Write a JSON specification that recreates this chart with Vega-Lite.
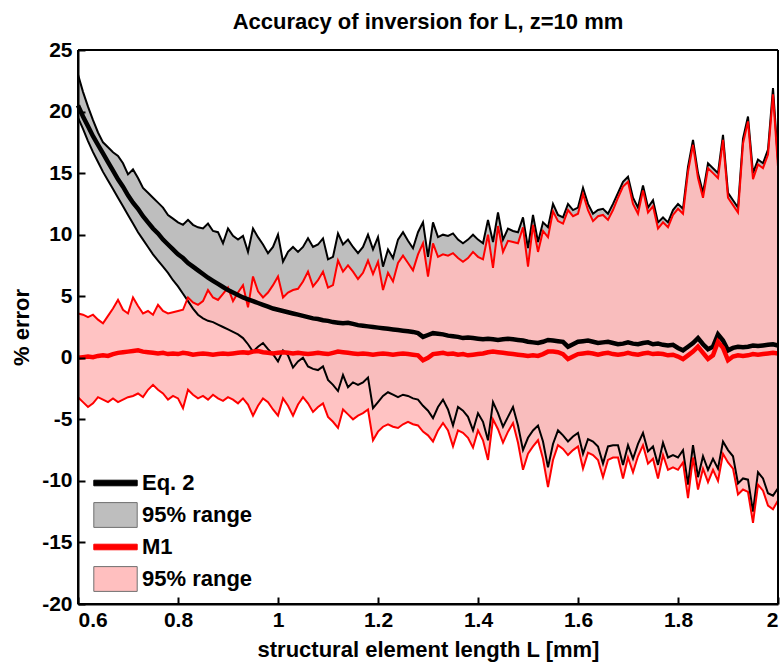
{
"$schema": "https://vega.github.io/schema/vega-lite/v6.json",
"width": 700, "height": 554,
"autosize": {"type": "none"},
"padding": {"left": 78, "top": 50, "right": 2, "bottom": 60},
"background": "white",
"title": {"text": "Accuracy of inversion for L, z=10 mm", "fontSize": 22, "font": "Liberation Sans", "fontWeight": "bold", "color": "black", "offset": 5, "anchor": "middle"},
"config": {
  "font": "Liberation Sans",
  "view": {"stroke": null},
  "axis": {"labelFont": "Liberation Sans", "labelFontWeight": "bold", "labelFontSize": 21, "labelColor": "black", "titleFont": "Liberation Sans", "titleFontWeight": "bold", "titleFontSize": 22, "titleColor": "black", "grid": false},
  "legend": {"labelFont": "Liberation Sans", "labelFontWeight": "bold", "labelFontSize": 22, "labelColor": "black"}
},
"datasets": {
"leg": [{"series": "Eq. 2"}, {"series": "Eq. 2 range"}, {"series": "M1"}, {"series": "M1 range"}],
"main": [
{"L":0.6,"em":20.5,"eh":23.0,"el":19.5,"rm":0.0,"rh":3.6,"rl":-3.2},
{"L":0.61,"em":19.6,"eh":21.6,"el":18.6,"rm":0.05,"rh":3.5,"rl":-3.6},
{"L":0.62,"em":18.8,"eh":20.4,"el":17.6,"rm":0.1,"rh":3.3,"rl":-4.0},
{"L":0.63,"em":18.0,"eh":19.3,"el":16.7,"rm":0.05,"rh":3.5,"rl":-3.7},
{"L":0.64,"em":17.3,"eh":18.3,"el":15.9,"rm":0.15,"rh":3.1,"rl":-3.2},
{"L":0.65,"em":16.6,"eh":17.5,"el":15.1,"rm":0.2,"rh":2.8,"rl":-3.4},
{"L":0.66,"em":15.9,"eh":17.1,"el":14.4,"rm":0.15,"rh":3.4,"rl":-3.6},
{"L":0.67,"em":15.2,"eh":16.7,"el":13.7,"rm":0.3,"rh":4.0,"rl":-3.3},
{"L":0.68,"em":14.5,"eh":16.4,"el":13.0,"rm":0.4,"rh":4.7,"rl":-3.6},
{"L":0.69,"em":13.9,"eh":15.8,"el":12.3,"rm":0.45,"rh":3.9,"rl":-3.4},
{"L":0.7,"em":13.2,"eh":14.9,"el":11.6,"rm":0.5,"rh":3.6,"rl":-3.2},
{"L":0.71,"em":12.6,"eh":15.3,"el":10.9,"rm":0.55,"rh":4.9,"rl":-3.1},
{"L":0.72,"em":12.1,"eh":14.6,"el":10.2,"rm":0.6,"rh":4.2,"rl":-2.9},
{"L":0.73,"em":11.5,"eh":13.8,"el":9.6,"rm":0.5,"rh":3.6,"rl":-3.2},
{"L":0.74,"em":11.0,"eh":13.4,"el":9.0,"rm":0.45,"rh":3.8,"rl":-2.6},
{"L":0.75,"em":10.5,"eh":13.0,"el":8.4,"rm":0.4,"rh":3.5,"rl":-2.2},
{"L":0.76,"em":10.1,"eh":12.6,"el":7.9,"rm":0.35,"rh":4.3,"rl":-2.6},
{"L":0.77,"em":9.6,"eh":12.2,"el":7.4,"rm":0.4,"rh":3.8,"rl":-2.9},
{"L":0.78,"em":9.2,"eh":11.6,"el":6.9,"rm":0.3,"rh":3.6,"rl":-3.4},
{"L":0.79,"em":8.8,"eh":11.3,"el":6.3,"rm":0.35,"rh":3.7,"rl":-3.1},
{"L":0.8,"em":8.4,"eh":11.0,"el":5.8,"rm":0.3,"rh":3.8,"rl":-3.3},
{"L":0.81,"em":8.1,"eh":10.8,"el":5.2,"rm":0.4,"rh":3.9,"rl":-4.1},
{"L":0.82,"em":7.7,"eh":11.2,"el":4.6,"rm":0.35,"rh":4.9,"rl":-2.6},
{"L":0.83,"em":7.4,"eh":10.8,"el":4.0,"rm":0.25,"rh":4.5,"rl":-3.0},
{"L":0.84,"em":7.1,"eh":10.6,"el":3.5,"rm":0.3,"rh":4.3,"rl":-3.3},
{"L":0.85,"em":6.8,"eh":10.5,"el":3.2,"rm":0.35,"rh":4.6,"rl":-3.1},
{"L":0.86,"em":6.5,"eh":10.9,"el":3.0,"rm":0.3,"rh":5.5,"rl":-3.4},
{"L":0.87,"em":6.25,"eh":10.3,"el":2.9,"rm":0.25,"rh":4.9,"rl":-3.0},
{"L":0.88,"em":6.0,"eh":10.2,"el":2.7,"rm":0.3,"rh":4.7,"rl":-3.3},
{"L":0.89,"em":5.75,"eh":9.3,"el":2.5,"rm":0.35,"rh":5.2,"rl":-3.5},
{"L":0.9,"em":5.5,"eh":10.5,"el":2.3,"rm":0.3,"rh":5.7,"rl":-3.2},
{"L":0.91,"em":5.3,"eh":9.9,"el":2.1,"rm":0.35,"rh":4.6,"rl":-3.4},
{"L":0.92,"em":5.1,"eh":9.6,"el":1.9,"rm":0.4,"rh":5.3,"rl":-3.7},
{"L":0.93,"em":4.9,"eh":9.9,"el":1.6,"rm":0.45,"rh":5.9,"rl":-3.3},
{"L":0.94,"em":4.75,"eh":8.6,"el":1.1,"rm":0.4,"rh":4.1,"rl":-3.8},
{"L":0.95,"em":4.6,"eh":10.5,"el":0.5,"rm":0.5,"rh":6.6,"rl":-4.7},
{"L":0.96,"em":4.45,"eh":9.8,"el":0.9,"rm":0.55,"rh":5.4,"rl":-3.9},
{"L":0.97,"em":4.3,"eh":9.2,"el":1.2,"rm":0.45,"rh":4.9,"rl":-3.3},
{"L":0.98,"em":4.15,"eh":8.5,"el":0.7,"rm":0.4,"rh":5.3,"rl":-3.6},
{"L":0.99,"em":4.0,"eh":9.0,"el":0.3,"rm":0.35,"rh":5.9,"rl":-4.2},
{"L":1.0,"em":3.9,"eh":10.0,"el":-0.3,"rm":0.4,"rh":6.6,"rl":-4.7},
{"L":1.01,"em":3.8,"eh":7.8,"el":0.6,"rm":0.45,"rh":4.9,"rl":-3.3},
{"L":1.02,"em":3.7,"eh":8.6,"el":0.2,"rm":0.4,"rh":5.3,"rl":-3.9},
{"L":1.03,"em":3.6,"eh":9.0,"el":-0.8,"rm":0.35,"rh":5.5,"rl":-4.7},
{"L":1.04,"em":3.5,"eh":8.6,"el":-0.3,"rm":0.4,"rh":5.6,"rl":-3.8},
{"L":1.05,"em":3.4,"eh":9.0,"el":0.0,"rm":0.35,"rh":6.2,"rl":-3.2},
{"L":1.06,"em":3.3,"eh":9.7,"el":-0.7,"rm":0.3,"rh":7.0,"rl":-3.7},
{"L":1.07,"em":3.2,"eh":9.0,"el":-0.9,"rm":0.35,"rh":5.8,"rl":-4.4},
{"L":1.08,"em":3.15,"eh":9.2,"el":-1.0,"rm":0.4,"rh":6.3,"rl":-4.0},
{"L":1.09,"em":3.05,"eh":9.7,"el":-0.7,"rm":0.35,"rh":7.0,"rl":-3.7},
{"L":1.1,"em":3.0,"eh":8.0,"el":-1.8,"rm":0.3,"rh":5.7,"rl":-4.8},
{"L":1.11,"em":2.9,"eh":8.2,"el":-2.2,"rm":0.4,"rh":5.9,"rl":-5.2},
{"L":1.12,"em":2.85,"eh":10.1,"el":-2.7,"rm":0.5,"rh":7.9,"rl":-5.7},
{"L":1.13,"em":2.8,"eh":9.2,"el":-1.4,"rm":0.45,"rh":7.0,"rl":-4.2},
{"L":1.14,"em":2.85,"eh":9.6,"el":-2.4,"rm":0.4,"rh":7.5,"rl":-4.6},
{"L":1.15,"em":2.75,"eh":9.0,"el":-2.0,"rm":0.35,"rh":7.0,"rl":-5.0},
{"L":1.16,"em":2.65,"eh":8.5,"el":-2.2,"rm":0.3,"rh":6.4,"rl":-4.7},
{"L":1.17,"em":2.6,"eh":9.0,"el":-2.0,"rm":0.35,"rh":6.9,"rl":-4.5},
{"L":1.18,"em":2.55,"eh":10.0,"el":-1.6,"rm":0.3,"rh":7.9,"rl":-4.2},
{"L":1.19,"em":2.5,"eh":8.8,"el":-4.1,"rm":0.25,"rh":6.8,"rl":-6.7},
{"L":1.2,"em":2.45,"eh":9.8,"el":-3.6,"rm":0.3,"rh":7.8,"rl":-6.0},
{"L":1.21,"em":2.4,"eh":7.4,"el":-3.1,"rm":0.35,"rh":5.5,"rl":-5.6},
{"L":1.22,"em":2.35,"eh":8.8,"el":-2.8,"rm":0.3,"rh":6.9,"rl":-5.4},
{"L":1.23,"em":2.3,"eh":8.1,"el":-3.0,"rm":0.25,"rh":6.2,"rl":-5.6},
{"L":1.24,"em":2.25,"eh":9.6,"el":-3.2,"rm":0.3,"rh":7.7,"rl":-5.7},
{"L":1.25,"em":2.2,"eh":10.2,"el":-3.0,"rm":0.35,"rh":8.3,"rl":-5.4},
{"L":1.26,"em":2.15,"eh":9.5,"el":-3.1,"rm":0.3,"rh":7.7,"rl":-5.2},
{"L":1.27,"em":2.1,"eh":8.9,"el":-3.3,"rm":0.25,"rh":7.1,"rl":-5.4},
{"L":1.28,"em":2.0,"eh":10.2,"el":-3.4,"rm":0.2,"rh":8.4,"rl":-5.5},
{"L":1.29,"em":1.7,"eh":11.0,"el":-3.9,"rm":-0.2,"rh":9.3,"rl":-6.0},
{"L":1.3,"em":1.85,"eh":8.2,"el":-4.3,"rm":0.0,"rh":6.6,"rl":-6.3},
{"L":1.31,"em":2.0,"eh":11.0,"el":-4.9,"rm":0.3,"rh":9.3,"rl":-6.8},
{"L":1.32,"em":1.95,"eh":9.8,"el":-4.0,"rm":0.35,"rh":8.2,"rl":-5.9},
{"L":1.33,"em":1.9,"eh":10.0,"el":-3.4,"rm":0.4,"rh":8.4,"rl":-5.3},
{"L":1.34,"em":1.8,"eh":9.9,"el":-4.2,"rm":0.3,"rh":8.3,"rl":-5.9},
{"L":1.35,"em":1.75,"eh":10.1,"el":-5.5,"rm":0.35,"rh":8.5,"rl":-7.2},
{"L":1.36,"em":1.7,"eh":9.6,"el":-4.0,"rm":0.25,"rh":8.1,"rl":-5.9},
{"L":1.37,"em":1.6,"eh":9.3,"el":-4.3,"rm":0.3,"rh":7.8,"rl":-6.1},
{"L":1.38,"em":1.65,"eh":9.6,"el":-4.8,"rm":0.2,"rh":8.1,"rl":-6.5},
{"L":1.39,"em":1.6,"eh":10.0,"el":-5.9,"rm":0.25,"rh":8.6,"rl":-7.3},
{"L":1.4,"em":1.55,"eh":9.6,"el":-4.5,"rm":0.3,"rh":8.2,"rl":-5.9},
{"L":1.41,"em":1.5,"eh":9.3,"el":-5.2,"rm":0.35,"rh":8.0,"rl":-6.7},
{"L":1.42,"em":1.55,"eh":11.2,"el":-6.7,"rm":0.45,"rh":10.0,"rl":-8.3},
{"L":1.43,"em":1.5,"eh":9.4,"el":-3.6,"rm":0.5,"rh":7.3,"rl":-5.0},
{"L":1.44,"em":1.45,"eh":11.8,"el":-4.5,"rm":0.45,"rh":10.7,"rl":-5.8},
{"L":1.45,"em":1.5,"eh":9.6,"el":-5.6,"rm":0.4,"rh":8.6,"rl":-6.9},
{"L":1.46,"em":1.55,"eh":10.5,"el":-4.8,"rm":0.35,"rh":9.5,"rl":-6.0},
{"L":1.47,"em":1.5,"eh":10.3,"el":-4.0,"rm":0.3,"rh":9.4,"rl":-5.3},
{"L":1.48,"em":1.45,"eh":10.2,"el":-5.5,"rm":0.25,"rh":9.3,"rl":-6.9},
{"L":1.49,"em":1.4,"eh":11.4,"el":-7.5,"rm":0.2,"rh":10.6,"rl":-9.1},
{"L":1.5,"em":1.3,"eh":8.9,"el":-6.5,"rm":0.15,"rh":7.4,"rl":-7.8},
{"L":1.51,"em":1.25,"eh":11.6,"el":-5.9,"rm":0.2,"rh":10.8,"rl":-7.2},
{"L":1.52,"em":1.2,"eh":9.4,"el":-5.5,"rm":0.15,"rh":8.6,"rl":-6.7},
{"L":1.53,"em":1.3,"eh":11.0,"el":-6.8,"rm":0.3,"rh":10.3,"rl":-8.2},
{"L":1.54,"em":1.45,"eh":10.6,"el":-8.9,"rm":0.5,"rh":9.8,"rl":-10.5},
{"L":1.55,"em":1.4,"eh":12.5,"el":-7.0,"rm":0.5,"rh":11.9,"rl":-8.3},
{"L":1.56,"em":1.35,"eh":11.6,"el":-5.9,"rm":0.45,"rh":11.1,"rl":-7.1},
{"L":1.57,"em":1.3,"eh":11.4,"el":-6.3,"rm":0.3,"rh":10.9,"rl":-7.4},
{"L":1.58,"em":0.9,"eh":12.5,"el":-6.8,"rm":-0.1,"rh":12.0,"rl":-7.9},
{"L":1.59,"em":1.1,"eh":12.0,"el":-6.4,"rm":0.1,"rh":11.5,"rl":-7.5},
{"L":1.6,"em":1.3,"eh":12.2,"el":-6.1,"rm":0.3,"rh":11.7,"rl":-7.2},
{"L":1.61,"em":1.35,"eh":13.8,"el":-7.8,"rm":0.35,"rh":13.3,"rl":-9.0},
{"L":1.62,"em":1.4,"eh":12.5,"el":-6.6,"rm":0.4,"rh":12.0,"rl":-7.7},
{"L":1.63,"em":1.3,"eh":11.7,"el":-6.8,"rm":0.35,"rh":11.1,"rl":-7.9},
{"L":1.64,"em":1.2,"eh":12.0,"el":-7.2,"rm":0.25,"rh":11.5,"rl":-8.3},
{"L":1.65,"em":1.25,"eh":12.1,"el":-8.6,"rm":0.35,"rh":11.6,"rl":-9.7},
{"L":1.66,"em":1.3,"eh":11.7,"el":-7.2,"rm":0.4,"rh":11.2,"rl":-8.3},
{"L":1.67,"em":1.2,"eh":12.5,"el":-7.1,"rm":0.3,"rh":12.0,"rl":-8.1},
{"L":1.68,"em":1.1,"eh":13.4,"el":-7.1,"rm":0.25,"rh":13.0,"rl":-8.1},
{"L":1.69,"em":1.15,"eh":14.3,"el":-8.7,"rm":0.3,"rh":13.9,"rl":-9.8},
{"L":1.7,"em":1.25,"eh":14.7,"el":-7.1,"rm":0.4,"rh":14.3,"rl":-8.1},
{"L":1.71,"em":1.15,"eh":13.0,"el":-8.2,"rm":0.3,"rh":12.5,"rl":-9.3},
{"L":1.72,"em":1.1,"eh":12.2,"el":-7.0,"rm":0.25,"rh":11.7,"rl":-8.0},
{"L":1.73,"em":1.2,"eh":14.0,"el":-6.1,"rm":0.35,"rh":13.6,"rl":-7.1},
{"L":1.74,"em":1.25,"eh":12.2,"el":-7.6,"rm":0.4,"rh":11.8,"rl":-8.6},
{"L":1.75,"em":1.1,"eh":12.8,"el":-7.2,"rm":0.3,"rh":12.3,"rl":-8.2},
{"L":1.76,"em":1.15,"eh":11.0,"el":-8.7,"rm":0.35,"rh":10.5,"rl":-9.8},
{"L":1.77,"em":1.05,"eh":11.4,"el":-6.9,"rm":0.3,"rh":11.0,"rl":-7.9},
{"L":1.78,"em":1.0,"eh":11.0,"el":-8.1,"rm":0.2,"rh":10.6,"rl":-9.1},
{"L":1.79,"em":1.05,"eh":12.0,"el":-7.9,"rm":0.25,"rh":11.6,"rl":-8.9},
{"L":1.8,"em":0.8,"eh":12.5,"el":-8.1,"rm":0.1,"rh":12.1,"rl":-9.1},
{"L":1.81,"em":0.6,"eh":12.1,"el":-7.5,"rm":-0.1,"rh":11.7,"rl":-8.5},
{"L":1.82,"em":0.9,"eh":15.5,"el":-10.3,"rm":0.2,"rh":15.1,"rl":-11.4},
{"L":1.83,"em":1.2,"eh":17.7,"el":-7.1,"rm":0.5,"rh":17.3,"rl":-8.1},
{"L":1.84,"em":1.6,"eh":15.0,"el":-9.7,"rm":0.9,"rh":14.6,"rl":-10.7},
{"L":1.85,"em":1.1,"eh":13.4,"el":-8.0,"rm":0.4,"rh":13.0,"rl":-9.0},
{"L":1.86,"em":0.7,"eh":15.8,"el":-9.1,"rm":-0.1,"rh":15.4,"rl":-10.1},
{"L":1.87,"em":0.9,"eh":15.4,"el":-8.2,"rm":0.2,"rh":15.0,"rl":-9.1},
{"L":1.88,"em":1.9,"eh":15.0,"el":-9.0,"rm":1.3,"rh":14.6,"rl":-10.0},
{"L":1.89,"em":1.4,"eh":18.1,"el":-6.8,"rm":0.8,"rh":17.7,"rl":-7.8},
{"L":1.9,"em":0.6,"eh":13.4,"el":-7.5,"rm":-0.2,"rh":13.0,"rl":-8.5},
{"L":1.91,"em":0.8,"eh":12.8,"el":-8.0,"rm":0.1,"rh":12.4,"rl":-9.0},
{"L":1.92,"em":0.9,"eh":12.2,"el":-10.2,"rm":0.2,"rh":11.8,"rl":-11.1},
{"L":1.93,"em":0.85,"eh":17.8,"el":-9.8,"rm":0.15,"rh":17.4,"rl":-10.7},
{"L":1.94,"em":0.9,"eh":19.6,"el":-9.9,"rm":0.2,"rh":19.2,"rl":-10.9},
{"L":1.95,"em":1.0,"eh":15.0,"el":-12.5,"rm":0.3,"rh":14.5,"rl":-13.4},
{"L":1.96,"em":0.95,"eh":16.1,"el":-9.3,"rm":0.25,"rh":15.7,"rl":-10.3},
{"L":1.97,"em":1.0,"eh":15.8,"el":-9.8,"rm":0.3,"rh":15.4,"rl":-10.8},
{"L":1.98,"em":1.05,"eh":16.9,"el":-11.0,"rm":0.35,"rh":16.5,"rl":-12.0},
{"L":1.99,"em":1.1,"eh":21.9,"el":-11.2,"rm":0.4,"rh":21.4,"rl":-12.3},
{"L":2.0,"em":1.0,"eh":16.0,"el":-10.6,"rm":0.35,"rh":15.5,"rl":-11.6}
]},
"data": {"name": "main"},
"layer": [
  {"mark": {"type": "area", "color": "#bebebe", "opacity": 1},
   "encoding": {
     "x": {"field": "L", "type": "quantitative", "scale": {"domain": [0.6, 2], "nice": false, "zero": false},
           "axis": {"title": "structural element length L [mm]", "values": [0.6, 0.8, 1, 1.2, 1.4, 1.6, 1.8, 2], "format": "~g",
                    "domain": true, "domainColor": "black", "domainWidth": 2, "ticks": true, "tickSize": -7, "tickColor": "black", "tickWidth": 2, "labelPadding": 12, "titlePadding": 9, "zindex": 1}},
     "y": {"field": "eh", "type": "quantitative", "scale": {"domain": [-20, 25], "nice": false, "zero": false},
           "axis": {"title": "% error", "values": [-20,-15,-10,-5,0,5,10,15,20,25], "labelExpr": "'' + datum.value",
                    "domain": true, "domainColor": "black", "domainWidth": 2, "ticks": true, "tickSize": -7, "tickColor": "black", "tickWidth": 2, "labelPadding": 13, "titlePadding": 8, "zindex": 1}},
     "y2": {"field": "el"}
   }},
  {"mark": {"type": "area", "color": "#ffbcbc", "opacity": 0.9},
   "encoding": {"x": {"field": "L", "type": "quantitative"}, "y": {"field": "rh", "type": "quantitative"}, "y2": {"field": "rl"}}},
  {"mark": {"type": "line", "color": "black", "strokeWidth": 2},
   "encoding": {"x": {"field": "L", "type": "quantitative"}, "y": {"field": "eh", "type": "quantitative"}}},
  {"mark": {"type": "line", "color": "black", "strokeWidth": 2},
   "encoding": {"x": {"field": "L", "type": "quantitative"}, "y": {"field": "el", "type": "quantitative"}}},
  {"mark": {"type": "line", "color": "red", "strokeWidth": 2},
   "encoding": {"x": {"field": "L", "type": "quantitative"}, "y": {"field": "rh", "type": "quantitative"}}},
  {"mark": {"type": "line", "color": "red", "strokeWidth": 2},
   "encoding": {"x": {"field": "L", "type": "quantitative"}, "y": {"field": "rl", "type": "quantitative"}}},
  {"mark": {"type": "line", "color": "black", "strokeWidth": 4.5},
   "encoding": {"x": {"field": "L", "type": "quantitative"}, "y": {"field": "em", "type": "quantitative"}}},
  {"mark": {"type": "line", "color": "red", "strokeWidth": 4.5},
   "encoding": {"x": {"field": "L", "type": "quantitative"}, "y": {"field": "rm", "type": "quantitative"}}},
  {"mark": {"type": "rule", "color": "black", "strokeWidth": 2}, "encoding": {"y": {"datum": 25, "type": "quantitative"}}},
  {"mark": {"type": "rule", "color": "black", "strokeWidth": 2}, "encoding": {"y": {"datum": -20, "type": "quantitative"}}},
  {"mark": {"type": "rule", "color": "black", "strokeWidth": 2}, "encoding": {"x": {"datum": 0.6, "type": "quantitative"}}},
  {"mark": {"type": "rule", "color": "black", "strokeWidth": 2}, "encoding": {"x": {"datum": 2, "type": "quantitative"}}},
  {"data": {"name": "leg"},
   "mark": {"type": "square", "opacity": 0},
   "encoding": {
     "color": {"field": "series", "type": "nominal",
       "scale": {"domain": ["Eq. 2", "Eq. 2 range", "M1", "M1 range"], "range": ["black", "#bebebe", "red", "#ffbfbf"]},
       "legend": {"title": null, "orient": "none", "legendX": 21.5, "legendY": 417, "padding": 0, "rowPadding": 1, "gridAlign": "all", "symbolSize": 961, "labelOffset": 10.5, "symbolOpacity": 1,
         "symbolStrokeWidth": 1,
         "symbolType": {"expr": "indexof(datum.value, 'range') >= 0 ? 'M-1.4,-0.8H1.4V0.8H-1.4Z' : 'M-1.4,-0.18H1.4V0.18H-1.4Z'"},
         "symbolStrokeColor": {"expr": "datum.value === 'Eq. 2' ? 'black' : (datum.value === 'M1' ? 'red' : '#707070')"},
         "labelExpr": "indexof(datum.label, 'range') >= 0 ? '95% range' : datum.label"}}
   }}
]
}
